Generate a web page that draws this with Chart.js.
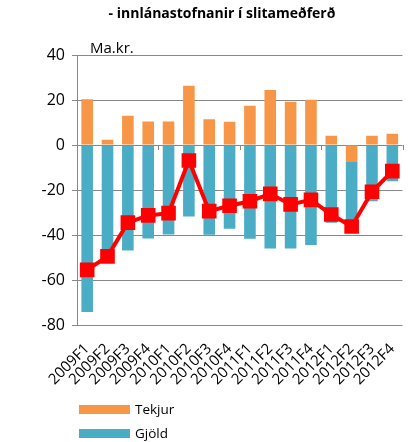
<!DOCTYPE html>
<html>
<head>
<meta charset="utf-8">
<script src="https://cdn.jsdelivr.net/npm/chart.js@4.4.0/dist/chart.umd.min.js"></script>
<style>
  html, body { margin: 0; padding: 0; background: #fff; }
  #wrap { position: relative; width: 414px; height: 442px; overflow: hidden; font-family: "Open Sans", sans-serif; color: #000; }
  #title { position: absolute; left: 0; width: 444px; top: 3px; text-align: center; font-weight: bold; font-size: 14px; }
  #unit { position: absolute; left: 90px; top: 37px; font-size: 15px; }
  #legend { position: absolute; left: 79px; top: 397px; font-size: 13.5px; }
  .item { display: flex; align-items: center; height: 24px; }
  .box { width: 51px; height: 9px; margin-right: 5px; }
</style>
</head>
<body>
<div id="wrap">
  <canvas id="myChart"></canvas>
  <div id="title">- innlánastofnanir í slitameðferð</div>
  <div id="unit">Ma.kr.</div>
  <div id="legend"></div>
</div>
<script>
// ársfjórðungar
const labels = ['2009F1', '2009F2', '2009F3', '2009F4', '2010F1', '2010F2', '2010F3', '2010F4',
                '2011F1', '2011F2', '2011F3', '2011F4', '2012F1', '2012F2', '2012F3', '2012F4'];
const tekjur = [20.3, 2.3, 13, 10.4, 10.4, 26.3, 11.4, 10.3, 17.4, 24.5, 19.2, 20.1, 4.1, -7.5, 4.1, 5];
const gjold = [-74.2, -51.8, -46.9, -41.6, -39.8, -31.8, -39.9, -37.2, -41.7, -46, -46, -44.4, -34.6, -28.7, -25, -16.1];
const nettó = [-55.5, -49.5, -34.5, -31.3, -30.3, -6.9, -29.4, -27, -25, -21.7, -26.4, -24.4, -30.9, -36.2, -20.8, -11.6];
const yTicks = [-80, -60, -40, -20, 0, 20, 40];

const gridColor = '#888888';

// litlar merkingar á núll-línunni, fjórða hvern flokk
const zeroTicks = {
  id: 'zeroTicks',
  beforeDatasetsDraw(chart) {
    const { ctx, scales: { x, y } } = chart;
    const y0 = y.getPixelForValue(0);
    ctx.save();
    ctx.strokeStyle = gridColor;
    ctx.lineWidth = 1;
    for (let i = 0; i <= labels.length; i += 4) {
      const px = Math.round(x.left + (x.right - x.left) * i / labels.length) + 0.5;
      ctx.beginPath();
      ctx.moveTo(px, y0);
      ctx.lineTo(px, y0 + 5);
      ctx.stroke();
    }
    ctx.restore();
  }
};

const ctx = document.getElementById('myChart').getContext('2d');
const chart = new Chart(ctx, {
  data: {
    labels: labels,
    datasets: [
      {
        type: 'line', label: 'Nettó', data: nettó, stack: 'net', order: 0,
        borderColor: '#ff0000', backgroundColor: '#ff0000', borderWidth: 4,
        pointStyle: 'rect', pointRadius: 7.5, pointHoverRadius: 7.5, tension: 0,
        inLegend: false
      },
      {
        type: 'bar', label: 'Tekjur', data: tekjur, stack: 'bars', order: 1,
        backgroundColor: '#f79646', categoryPercentage: 1, barPercentage: 0.57, inLegend: true
      },
      {
        type: 'bar', label: 'Gjöld', data: gjold, stack: 'bars', order: 1,
        backgroundColor: '#4bacc6', categoryPercentage: 1, barPercentage: 0.57, inLegend: true
      }
    ]
  },
  options: {
    responsive: true,
    maintainAspectRatio: false,
    animation: false,
    layout: { padding: { top: 55, right: 2, left: 0, bottom: 0 } },
    plugins: {
      legend: { display: false },
      title: { display: false }
    },
    scales: {
      x: {
        stacked: true,
        grid: { display: false },
        border: { display: false },
        ticks: {
          autoSkip: false, minRotation: 45, maxRotation: 45, padding: 7,
          color: '#000', font: { family: '"Open Sans", sans-serif', size: 15 }
        },
        afterFit(scale) {
          scale.height = 117;
          scale.paddingLeft = 0;
          scale.paddingRight = 0;
        }
      },
      y: {
        stacked: true,
        min: -80, max: 40,
        afterBuildTicks(scale) {
          scale.ticks = yTicks.map(v => ({ value: v }));
        },
        grid: { color: gridColor, lineWidth: 1, tickLength: 5, drawTicks: true },
        border: { display: true, color: gridColor, width: 1 },
        ticks: {
          padding: 7, color: '#000',
          font: { family: '"Open Sans", sans-serif', size: 16 }
        },
        afterFit(scale) {
          scale.width = 77;
        }
      }
    }
  },
  plugins: [zeroTicks]
});

// skýringar búnar til út frá gagnaröðunum
const legendEl = document.getElementById('legend');
chart.data.datasets.filter(ds => ds.inLegend).forEach(ds => {
  const item = document.createElement('div');
  item.className = 'item';
  const box = document.createElement('span');
  box.className = 'box';
  box.style.background = ds.backgroundColor;
  const txt = document.createElement('span');
  txt.textContent = ds.label;
  item.appendChild(box);
  item.appendChild(txt);
  legendEl.appendChild(item);
});
</script>
</body>
</html>
